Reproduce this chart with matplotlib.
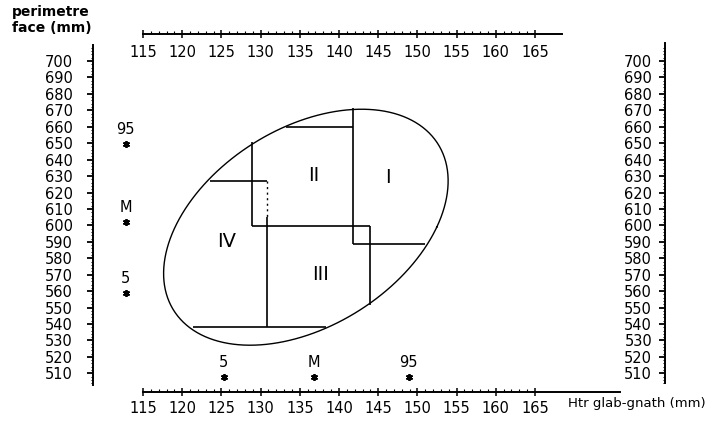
import numpy as np
import matplotlib
matplotlib.use("Agg")
import matplotlib.pyplot as plt
from matplotlib.ticker import FixedLocator, NullLocator

plt.rcParams["font.family"] = ["DejaVu Sans"]

# graduations des axes
x_ticks = list(range(115, 170, 5))        # Htr glab-gnath (mm)
x_minor = list(range(115, 166))
y_ticks = list(range(510, 710, 10))       # perimetre face (mm)
y_minor = list(range(504, 710, 2))

# percentiles 5 / M / 95
pct_labels = ["5", "M", "95"]
pct_x = [125.3, 136.8, 148.9]
pct_y = [558.7, 602.3, 649.5]
pct_row_y = 507.8      # ligne des etoiles sous le graphe
pct_col_x = 112.8      # colonne des etoiles a gauche

# contour de l'ellipse
outline_x = [141.8, 133.3, 128.9, 123.6, 122.3, 118.9, 117.7, 118.0, 121.4,
             124.4, 129.1, 138.4, 143.9, 147.8, 151.0, 154.2, 151.6, 145.2]
outline_y = [671.2, 660.0, 650.9, 627.2, 621.5, 599.2, 571.7, 554.6, 538.0,
             530.3, 526.2, 538.0, 551.6, 568.6, 588.7, 627.6, 656.0, 668.4]

# limites des zones de taille
line_x0 = [128.9, 128.9, 123.5, 130.8, 121.4, 133.3, 141.75, 141.75, 143.9]
line_x1 = [128.9, 143.9, 130.8, 130.8, 138.4, 141.75, 141.75, 151.0, 143.9]
line_y0 = [599.6, 599.6, 627.2, 605.3, 538.0, 660.0, 588.7, 588.7, 599.6]
line_y1 = [650.9, 599.6, 627.2, 538.0, 538.0, 660.0, 671.2, 588.7, 551.6]
dot_x = [130.8, 130.8]
dot_y = [627.2, 605.3]

zone_names = ["I", "II", "III", "IV"]
zone_x = [146.3, 136.8, 137.6, 125.7]
zone_y = [629.4, 630.2, 570.4, 590.1]

# ajustement d'une ellipse sur le contour
ox, oy = np.array(outline_x), np.array(outline_y)
mx, my, sx, sy = ox.mean(), oy.mean(), ox.std(), oy.std()
u, v = (ox - mx) / sx, (oy - my) / sy
coef = np.linalg.lstsq(np.column_stack([u * u, u * v, v * v, u, v]),
                       np.ones_like(u), rcond=None)[0]
M = np.array([[coef[0], coef[1] / 2], [coef[1] / 2, coef[2]]])
cen = np.linalg.solve(2 * M, -coef[3:])
L = np.linalg.cholesky(M / (1 + cen @ M @ cen))
t = np.linspace(0, 2 * np.pi, 300)
w = np.linalg.solve(L.T, np.vstack([np.cos(t), np.sin(t)]))
ell_x = mx + sx * (cen[0] + w[0])
ell_y = my + sy * (cen[1] + w[1])

W, H = 717, 421
fig = plt.figure(figsize=(W / 100, H / 100), dpi=100)
fig.patch.set_facecolor("white")

ax = fig.add_axes([93 / W, (H - 392) / H, 572 / W, 358 / H])
ax.set_xlim(108.62, 181.58)
ax.set_ylim(498.66, 716.42)
ax.patch.set_visible(False)

# regle du haut (etiquettes sous la ligne)
axt = fig.add_axes([93 / W, (H - 34) / H, 572 / W, 0.001], sharex=ax)
# regle de droite (etiquettes a gauche de la ligne)
axr = fig.add_axes([665 / W, (H - 392) / H, 0.001, 358 / H], sharey=ax)

ax.xaxis.set_major_locator(FixedLocator(x_ticks))
ax.xaxis.set_minor_locator(FixedLocator(x_minor))
ax.yaxis.set_major_locator(FixedLocator(y_ticks))
ax.yaxis.set_minor_locator(FixedLocator(y_minor))

for a in (ax, axt, axr):
    a.patch.set_visible(False)
    for s in a.spines.values():
        s.set_visible(False)
        s.set_linewidth(1.4)

ax.spines["left"].set_visible(True)
ax.spines["left"].set_bounds(502.9, 709.7)
ax.spines["bottom"].set_visible(True)
ax.spines["bottom"].set_bounds(115, 175.8)
axt.spines["bottom"].set_visible(True)
axt.spines["bottom"].set_bounds(115, 168.4)
axr.spines["left"].set_visible(True)
axr.spines["left"].set_bounds(504.1, 711.0)

for a in (ax, axt):
    a.tick_params(axis="x", which="major", direction="inout", length=6, width=1.1,
                  labelsize=10.5, labelfontfamily=["Liberation Sans Narrow", "DejaVu Sans"])
    a.tick_params(axis="x", which="minor", direction="in", length=2.2, width=0.8)
ax.tick_params(axis="x", which="major", pad=3.5)
axt.tick_params(axis="x", which="major", pad=5)
axt.yaxis.set_major_locator(NullLocator())
axt.yaxis.set_minor_locator(NullLocator())

for a, p in ((ax, 10.4), (axr, 5.3)):
    a.tick_params(axis="y", which="major", direction="out", length=4, width=1.3,
                  labelsize=10.5, pad=p)
    a.tick_params(axis="y", which="minor", direction="out", length=1.8, width=0.7)
axr.xaxis.set_major_locator(NullLocator())
axr.xaxis.set_minor_locator(NullLocator())

# ellipse et zones
ax.plot(ell_x, ell_y, color="black", lw=1.0)
for x0, x1, y0, y1 in zip(line_x0, line_x1, line_y0, line_y1):
    ax.plot([x0, x1], [y0, y1], color="black", lw=1.2, solid_capstyle="butt")
ax.plot(dot_x, dot_y, color="black", lw=1.0, ls=(0, (1.5, 2.5)))

for name, zx, zy in zip(zone_names, zone_x, zone_y):
    ax.text(zx, zy, name, fontsize=14, ha="center", va="center")

# etoiles des percentiles
ax.plot(pct_x, [pct_row_y] * len(pct_x), ls="none", marker=(6, 2, 0),
        ms=5, mew=1.3, color="black", clip_on=False)
ax.plot([pct_col_x] * len(pct_y), pct_y, ls="none", marker=(6, 2, 0),
        ms=5, mew=1.3, color="black", clip_on=False)
for lab, px in zip(pct_labels, pct_x):
    ax.annotate(lab, (px, pct_row_y), xytext=(0, 5), textcoords="offset points",
                ha="center", va="bottom", fontsize=10.5)
for lab, py in zip(pct_labels, pct_y):
    ax.annotate(lab, (pct_col_x, py), xytext=(0, 5), textcoords="offset points",
                ha="center", va="bottom", fontsize=10.5)

fig.text(12 / W, 1 - 5 / H, "perimetre\nface (mm)", ha="left", va="top",
         fontsize=10, fontweight="bold", linespacing=1.15)
fig.text(568 / W, 1 - 404 / H, "Htr glab-gnath (mm)", ha="left", va="center",
         fontsize=9.5)

fig.savefig("out.png", dpi=100, facecolor="white")
